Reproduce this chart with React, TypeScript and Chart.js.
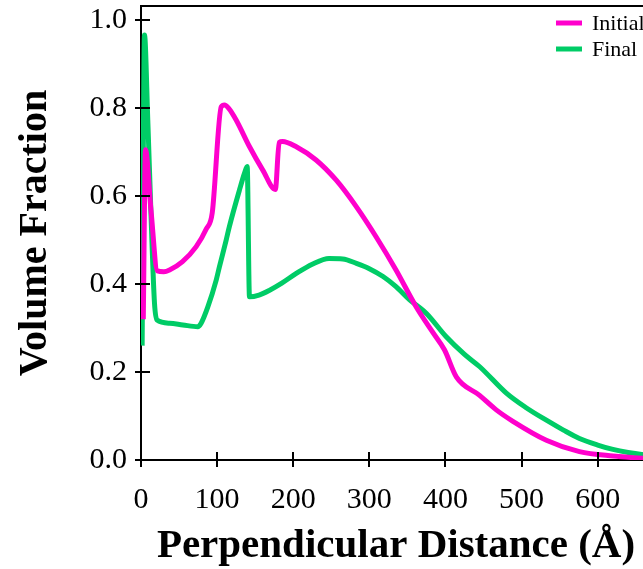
import React, { useEffect, useRef } from 'react';
import { Chart, registerables } from 'chart.js';

Chart.register(...registerables);

// Perpendicular distance (Å) / volume fraction samples
const initialX = [3, 5.9, 13, 21.5, 30, 37.5, 54.5, 72.5, 85.7, 93.6, 105.4, 109.7, 115, 125, 142.6, 160, 176.5, 181.5, 186, 204, 230, 256.5, 282.8, 309, 335, 361.6, 383.4, 398.8, 414.2, 444.8, 466.7, 488.6, 532.5, 576, 620, 659, 700];
const initialY = [0.32, 0.705, 0.57, 0.43, 0.428, 0.432, 0.451, 0.485, 0.525, 0.562, 0.803, 0.807, 0.8, 0.773, 0.712, 0.659, 0.615, 0.722, 0.724, 0.712, 0.682, 0.636, 0.576, 0.507, 0.432, 0.348, 0.29, 0.25, 0.189, 0.147, 0.114, 0.088, 0.045, 0.019, 0.009, 0.004, 0.001];

const finalX = [1.5, 4.6, 8.9, 13.4, 17.7, 21, 37.5, 55, 74.6, 79, 87.8, 98.8, 103, 111.9, 116, 129.4, 136, 139.5, 142.5, 155, 169, 185, 204, 225, 247, 265, 283, 300, 318, 335, 353, 375, 401, 425, 445, 480, 505, 532, 555, 576, 600, 620, 640, 660, 700];
const finalY = [0.26, 0.966, 0.773, 0.545, 0.357, 0.318, 0.311, 0.307, 0.303, 0.311, 0.348, 0.409, 0.439, 0.5, 0.53, 0.614, 0.652, 0.667, 0.371, 0.375, 0.386, 0.402, 0.424, 0.445, 0.458, 0.457, 0.447, 0.435, 0.417, 0.394, 0.364, 0.333, 0.28, 0.24, 0.212, 0.152, 0.12, 0.091, 0.068, 0.049, 0.034, 0.024, 0.017, 0.012, 0.005];

const seriesNames = ['Initial', 'Final'];
const seriesColors = ['#ff00cc', '#00cc66'];
const xAxisTitle = 'Perpendicular Distance (Å)';
const yAxisTitle = 'Volume Fraction';
const xMin = 0;
const xMax = 670;
const yMin = 0;
const yMax = 1.032;

const FONT = "'Liberation Serif', 'Times New Roman', serif";

const framePlugin = {
  id: 'frameTicksLegend',
  afterDraw(chart: any) {
    const { ctx, chartArea: a, scales } = chart;
    const xs = scales.x;
    const ys = scales.y;
    ctx.save();
    ctx.strokeStyle = '#000';
    ctx.lineWidth = 2;
    ctx.beginPath();
    ctx.moveTo(a.left, a.top);
    ctx.lineTo(a.right, a.top);
    ctx.lineTo(a.right, a.bottom);
    ctx.stroke();

    ctx.beginPath();
    xs.ticks.forEach((t: any) => {
      const px = Math.round(xs.getPixelForValue(t.value));
      ctx.moveTo(px, a.bottom - 8);
      ctx.lineTo(px, a.bottom + 7);
    });
    ys.ticks.forEach((t: any) => {
      const py = Math.round(ys.getPixelForValue(t.value));
      ctx.moveTo(a.left - 6, py);
      ctx.lineTo(a.left + 9, py);
    });
    ctx.stroke();

    // legend inside the plot, upper right
    const lineStart = a.right - 95;
    const lineLen = 26;
    ctx.font = `22px ${FONT}`;
    ctx.textBaseline = 'middle';
    ctx.textAlign = 'left';
    chart.data.datasets.forEach((ds: any, i: number) => {
      const y = a.top + 17 + i * 26;
      ctx.strokeStyle = ds.borderColor;
      ctx.lineWidth = 5;
      ctx.beginPath();
      ctx.moveTo(lineStart, y);
      ctx.lineTo(lineStart + lineLen, y);
      ctx.stroke();
      ctx.fillStyle = '#000';
      ctx.fillText(ds.label, lineStart + 36, y + 1);
    });
    ctx.restore();
  },
};

export default function App() {
  const ref = useRef<HTMLCanvasElement | null>(null);

  useEffect(() => {
    if (!ref.current) return;
    const mk = (xs: number[], ys: number[]) => xs.map((x, i) => ({ x, y: ys[i] }));
    const chart = new Chart(ref.current, {
      type: 'line',
      data: {
        datasets: [
          {
            label: seriesNames[0],
            data: mk(initialX, initialY),
            borderColor: seriesColors[0],
            backgroundColor: seriesColors[0],
            borderWidth: 5,
            pointRadius: 0,
            cubicInterpolationMode: 'monotone',
            fill: false,
          },
          {
            label: seriesNames[1],
            data: mk(finalX, finalY),
            borderColor: seriesColors[1],
            backgroundColor: seriesColors[1],
            borderWidth: 5,
            pointRadius: 0,
            cubicInterpolationMode: 'monotone',
            fill: false,
          },
        ],
      },
      options: {
        responsive: false,
        animation: false,
        events: [],
        layout: { padding: { top: 6, left: 0, right: 69, bottom: 0 } },
        plugins: {
          legend: { display: false },
          tooltip: { enabled: false },
        },
        scales: {
          x: {
            type: 'linear',
            min: xMin,
            max: xMax,
            grid: { display: true, drawOnChartArea: false, drawTicks: false },
            border: { display: true, color: '#000', width: 2 },
            ticks: {
              stepSize: 100,
              includeBounds: false,
              color: '#000',
              padding: 22,
              maxRotation: 0,
              autoSkip: false,
              font: { family: FONT, size: 30 },
            },
            title: {
              display: true,
              text: xAxisTitle,
              color: '#000',
              font: { family: FONT, size: 41, weight: 'bold', lineHeight: 1.1 },
              padding: { top: 0, bottom: 0 },
            },
            afterFit(scale: any) {
              scale.height = 109;
              scale.paddingLeft = 0;
              scale.paddingRight = 0;
            },
          },
          y: {
            type: 'linear',
            min: yMin,
            max: yMax,
            grid: { display: true, drawOnChartArea: false, drawTicks: false },
            border: { display: true, color: '#000', width: 2 },
            ticks: {
              stepSize: 0.2,
              includeBounds: false,
              color: '#000',
              padding: 14,
              font: { family: FONT, size: 30 },
              callback: (v: any) => Number(v).toFixed(1),
            },
            title: {
              display: true,
              text: yAxisTitle,
              color: '#000',
              font: { family: FONT, size: 40, weight: 'bold', lineHeight: 1.2 },
              padding: { top: 12, bottom: 0 },
            },
            afterFit(scale: any) {
              scale.width = 141;
              scale.paddingTop = 0;
              scale.paddingBottom = 0;
            },
          },
        },
      },
      plugins: [framePlugin],
    } as any);
    return () => chart.destroy();
  }, []);

  return (
    <div
      style={{
        position: 'absolute',
        left: 0,
        top: 0,
        width: 643,
        height: 569,
        overflow: 'hidden',
        background: '#fff',
      }}
    >
      <canvas ref={ref} width={720} height={569} style={{ display: 'block', width: 720, height: 569 }} />
    </div>
  );
}
